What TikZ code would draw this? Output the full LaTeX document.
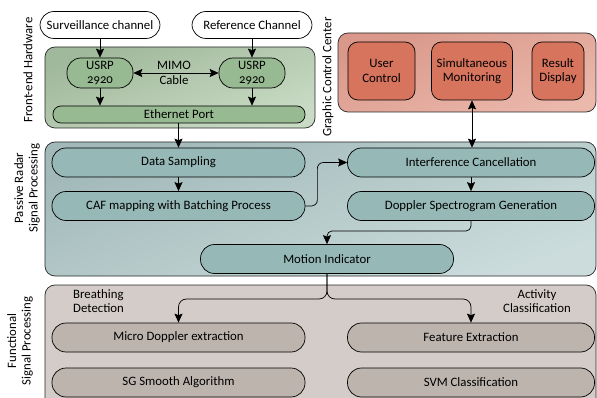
\documentclass[tikz,border=0pt]{standalone}
\usepackage{fontspec}
\setmainfont{Carlito}
\usetikzlibrary{arrows.meta,positioning}

\definecolor{hwpanel}{RGB}{178,204,172}
\definecolor{hwbox}{RGB}{152,186,146}
\definecolor{gcpanel}{RGB}{228,160,144}
\definecolor{gcbox}{RGB}{214,116,94}
\definecolor{prpanel}{RGB}{176,201,201}
\definecolor{prbox}{RGB}{150,185,183}
\definecolor{fspanel}{RGB}{212,204,200}
\definecolor{fsbox}{RGB}{189,180,174}
\definecolor{rim}{RGB}{40,40,40}

\begin{document}
\begin{tikzpicture}[x=1pt,y=-1pt,font=\fontsize{12.8}{14.5}\selectfont]
\tikzstyle{every node}+=[inner sep=0pt]
\tikzstyle{panel}=[draw=rim,line width=0.7pt,rounded corners=10pt]
\tikzstyle{pill}=[draw=black,line width=0.7pt,rounded corners=14pt,minimum height=29pt]
\tikzstyle{slab}=[pill,rounded corners=10pt,minimum height=58pt,align=center]
\tikzstyle{side}=[rotate=90,align=center]
\tikzstyle{flow}=[-{Stealth[length=9pt,width=8pt,inset=1.5pt]},line width=0.7pt]
\tikzstyle{twoway}=[{Stealth[length=9pt,width=8pt,inset=1.5pt]}-{Stealth[length=9pt,width=8pt,inset=1.5pt]},line width=0.7pt]
\useasboundingbox (0,0) rectangle (597,398);
\clip (0,0) rectangle (597,398);

% panels
\draw [panel,top color=hwpanel!90!black,bottom color=hwpanel!70!white,shading angle=20] (45,47) rectangle (315,128);
\draw [panel,top color=gcpanel!95!black,bottom color=gcpanel!75!white,shading angle=20] (338,33) rectangle (596,112);
\draw [panel,top color=prpanel!92!black,bottom color=prpanel!65!white,shading angle=20] (45,142) rectangle (596,276);
\draw [panel,fill=fspanel] (45,285) rectangle (596,410);

% side labels
\node [side] (lblhw) at (28,70) {Front-end Hardware};
\node [side] (lblgc) at (328,77) {Graphic Control Center};
\node [side] (lblpr) at (27,188) {Passive Radar\\Signal Processing};
\node [side] (lblfs) at (20,341) {Functional\\Signal Processing};

% front-end hardware
\node [pill,fill=white,minimum width=120pt,minimum height=27pt] (surv) at (100,25) {Surveillance channel};
\node [pill,fill=white,minimum width=120pt,minimum height=27pt] (refch) at (252,25) {Reference Channel};
\node [pill,fill=hwbox,minimum width=66pt,minimum height=30pt,align=center] (usrpL) at (100,73) {USRP\\\addfontfeatures{Numbers=OldStyle}2920};
\node [pill,fill=hwbox,minimum width=66pt,minimum height=30pt,align=center] (usrpR) at (252,73) {USRP\\\addfontfeatures{Numbers=OldStyle}2920};
\node [align=center] (mimo) at (174,73) {MIMO\\Cable};
\node [pill,fill=hwbox,minimum width=252pt,minimum height=17pt,rounded corners=8pt] (ether) at (179,114.5) {Ethernet Port};

% graphic control center
\node [slab,fill=gcbox,minimum width=67pt] (userctl) at (381.5,71) {User\\Control};
\node [slab,fill=gcbox,minimum width=81pt] (monitor) at (472,71) {Simultaneous\\Monitoring};
\node [slab,fill=gcbox,minimum width=52pt] (result) at (558,71) {Result\\Display};

% passive radar signal processing
\node [pill,fill=prbox,minimum width=253pt] (sampling) at (178.5,162.5) {Data Sampling};
\node [pill,fill=prbox,minimum width=253pt] (caf) at (178.5,206) {CAF mapping with Batching Process};
\node [pill,fill=prbox,minimum width=247pt] (interf) at (471,162.5) {Interference Cancellation};
\node [pill,fill=prbox,minimum width=247pt] (doppler) at (471,206) {Doppler Spectrogram Generation};
\node [pill,fill=prbox,minimum width=253pt] (motion) at (327,259) {Motion Indicator};

% functional signal processing
\node [align=left,anchor=west] (breath) at (73,301) {Breathing\\Detection};
\node [align=center] (activity) at (537,301) {Activity\\Classification};
\node [pill,fill=fsbox,minimum width=253pt] (micro) at (178.5,337.5) {Micro Doppler extraction};
\node [pill,fill=fsbox,minimum width=253pt] (sgsmooth) at (178.5,382.5) {SG Smooth Algorithm};
\node [pill,fill=fsbox,minimum width=247pt] (feature) at (471,337.5) {Feature Extraction};
\node [pill,fill=fsbox,minimum width=247pt] (svm) at (471,382.5) {SVM Classification};

% connectors
\coordinate (dm) at (327,231);
\coordinate (split) at (327,299);
\draw [flow] (surv.south) -- (usrpL.north);
\draw [flow] (refch.south) -- (usrpR.north);
\draw [twoway] (usrpL.east) -- (usrpR.west);
\draw [flow] (usrpL.south) -- (usrpL.south |- ether.north);
\draw [flow] (usrpR.south) -- (usrpR.south |- ether.north);
\draw [flow] (ether.south -| sampling.north) -- (sampling.north);
\draw [flow] (sampling) -- (caf);
\draw [flow,rounded corners=6pt] (caf.east) -- ++(12,0) |- (interf.west);
\draw [twoway] (monitor.south) -- (monitor.south |- interf.north);
\draw [flow] (interf) -- (doppler);
\draw [flow,rounded corners=5pt] (doppler.south) |- (dm) -- (motion.north);
\draw [flow,rounded corners=8pt] (motion.south) |- (micro.north |- split) -- (micro.north);
\draw [flow,rounded corners=8pt] (motion.south) |- (feature.north |- split) -- (feature.north);
\end{tikzpicture}
\end{document}
